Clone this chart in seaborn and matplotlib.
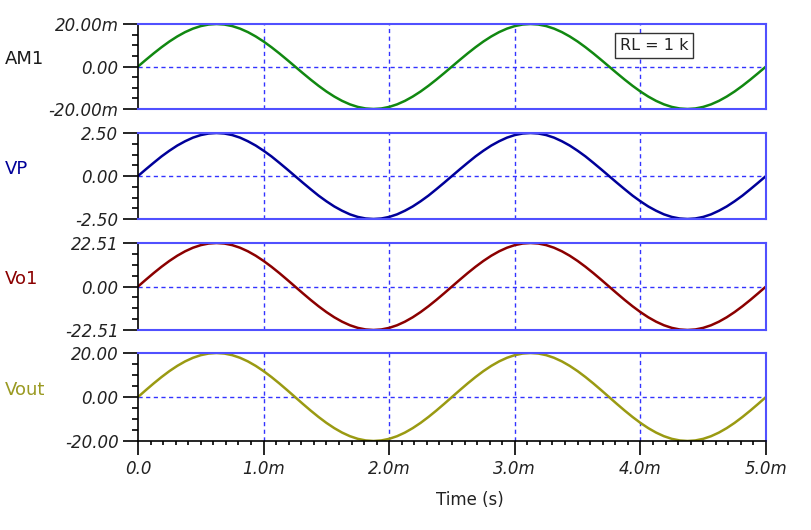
import numpy as np
import pandas as pd
import seaborn as sns
import matplotlib.pyplot as plt
from matplotlib.ticker import MultipleLocator, AutoMinorLocator

# time axis in ms, samples read every 0.0625 ms
t_ms = [0.0000, 0.0625, 0.1250, 0.1875, 0.2500, 0.3125, 0.3750, 0.4375, 0.5000, 0.5625,
        0.6250, 0.6875, 0.7500, 0.8125, 0.8750, 0.9375, 1.0000, 1.0625, 1.1250, 1.1875,
        1.2500, 1.3125, 1.3750, 1.4375, 1.5000, 1.5625, 1.6250, 1.6875, 1.7500, 1.8125,
        1.8750, 1.9375, 2.0000, 2.0625, 2.1250, 2.1875, 2.2500, 2.3125, 2.3750, 2.4375,
        2.5000, 2.5625, 2.6250, 2.6875, 2.7500, 2.8125, 2.8750, 2.9375, 3.0000, 3.0625,
        3.1250, 3.1875, 3.2500, 3.3125, 3.3750, 3.4375, 3.5000, 3.5625, 3.6250, 3.6875,
        3.7500, 3.8125, 3.8750, 3.9375, 4.0000, 4.0625, 4.1250, 4.1875, 4.2500, 4.3125,
        4.3750, 4.4375, 4.5000, 4.5625, 4.6250, 4.6875, 4.7500, 4.8125, 4.8750, 4.9375,
        5.0000]

# AM1 in mA
am1 = [0.00, 3.13, 6.18, 9.08, 11.76, 14.14, 16.18, 17.82, 19.02, 19.75,
       20.00, 19.75, 19.02, 17.82, 16.18, 14.14, 11.76, 9.08, 6.18, 3.13,
       0.00, -3.13, -6.18, -9.08, -11.76, -14.14, -16.18, -17.82, -19.02, -19.75,
       -20.00, -19.75, -19.02, -17.82, -16.18, -14.14, -11.76, -9.08, -6.18, -3.13,
       0.00, 3.13, 6.18, 9.08, 11.76, 14.14, 16.18, 17.82, 19.02, 19.75,
       20.00, 19.75, 19.02, 17.82, 16.18, 14.14, 11.76, 9.08, 6.18, 3.13,
       0.00, -3.13, -6.18, -9.08, -11.76, -14.14, -16.18, -17.82, -19.02, -19.75,
       -20.00, -19.75, -19.02, -17.82, -16.18, -14.14, -11.76, -9.08, -6.18, -3.13,
       0.00]
vp = [0.00, 0.39, 0.77, 1.14, 1.47, 1.77, 2.02, 2.23, 2.38, 2.47,
      2.50, 2.47, 2.38, 2.23, 2.02, 1.77, 1.47, 1.14, 0.77, 0.39,
      0.00, -0.39, -0.77, -1.14, -1.47, -1.77, -2.02, -2.23, -2.38, -2.47,
      -2.50, -2.47, -2.38, -2.23, -2.02, -1.77, -1.47, -1.14, -0.77, -0.39,
      0.00, 0.39, 0.77, 1.14, 1.47, 1.77, 2.02, 2.23, 2.38, 2.47,
      2.50, 2.47, 2.38, 2.23, 2.02, 1.77, 1.47, 1.14, 0.77, 0.39,
      0.00, -0.39, -0.77, -1.14, -1.47, -1.77, -2.02, -2.23, -2.38, -2.47,
      -2.50, -2.47, -2.38, -2.23, -2.02, -1.77, -1.47, -1.14, -0.77, -0.39,
      0.00]
vo1 = [0.00, 3.52, 6.96, 10.22, 13.23, 15.92, 18.21, 20.06, 21.41, 22.23,
       22.51, 22.23, 21.41, 20.06, 18.21, 15.92, 13.23, 10.22, 6.96, 3.52,
       0.00, -3.52, -6.96, -10.22, -13.23, -15.92, -18.21, -20.06, -21.41, -22.23,
       -22.51, -22.23, -21.41, -20.06, -18.21, -15.92, -13.23, -10.22, -6.96, -3.52,
       0.00, 3.52, 6.96, 10.22, 13.23, 15.92, 18.21, 20.06, 21.41, 22.23,
       22.51, 22.23, 21.41, 20.06, 18.21, 15.92, 13.23, 10.22, 6.96, 3.52,
       0.00, -3.52, -6.96, -10.22, -13.23, -15.92, -18.21, -20.06, -21.41, -22.23,
       -22.51, -22.23, -21.41, -20.06, -18.21, -15.92, -13.23, -10.22, -6.96, -3.52,
       0.00]
vout = [0.00, 3.13, 6.18, 9.08, 11.76, 14.14, 16.18, 17.82, 19.02, 19.75,
        20.00, 19.75, 19.02, 17.82, 16.18, 14.14, 11.76, 9.08, 6.18, 3.13,
        0.00, -3.13, -6.18, -9.08, -11.76, -14.14, -16.18, -17.82, -19.02, -19.75,
        -20.00, -19.75, -19.02, -17.82, -16.18, -14.14, -11.76, -9.08, -6.18, -3.13,
        0.00, 3.13, 6.18, 9.08, 11.76, 14.14, 16.18, 17.82, 19.02, 19.75,
        20.00, 19.75, 19.02, 17.82, 16.18, 14.14, 11.76, 9.08, 6.18, 3.13,
        0.00, -3.13, -6.18, -9.08, -11.76, -14.14, -16.18, -17.82, -19.02, -19.75,
        -20.00, -19.75, -19.02, -17.82, -16.18, -14.14, -11.76, -9.08, -6.18, -3.13,
        0.00]

names = ['AM1', 'VP', 'Vo1', 'Vout']
series = [am1, vp, vo1, vout]
limits = [20.00, 2.50, 22.51, 20.00]
ylabels = [['-20.00m', '0.00', '20.00m'], ['-2.50', '0.00', '2.50'],
           ['-22.51', '0.00', '22.51'], ['-20.00', '0.00', '20.00']]
colors = ['#118811', '#000099', '#8b0000', '#9a9a12']
name_colors = ['#1a1a1a', '#000099', '#8b0000', '#9a9a22']
xticklabels = ['0.0', '1.0m', '2.0m', '3.0m', '4.0m', '5.0m']

sns.set_style("white")
plt.rcParams['font.family'] = ['DejaVu Sans']

fig = plt.figure(figsize=(8.12, 5.30), dpi=100)
W, H = 812, 530
tops = [24, 133, 243, 353]
bots = [109, 219, 330, 441]
left, right = 138, 766
frame = '#5050ff'
gridc = '#3333ff'

df = pd.DataFrame({'t': t_ms})
for n, s in zip(names, series):
    df[n] = s

for i in range(4):
    ax = fig.add_axes([left / W, 1 - bots[i] / H, (right - left) / W, (bots[i] - tops[i]) / H])
    sns.lineplot(data=df, x='t', y=names[i], color=colors[i], lw=1.8, ax=ax)
    lim = limits[i]
    ax.set_xlim(0, 5)
    ax.set_ylim(-lim, lim)
    ax.set_yticks([-lim, 0, lim])
    ax.set_yticklabels(ylabels[i], fontstyle='italic', fontsize=12, color='#222222')
    ax.yaxis.set_minor_locator(AutoMinorLocator(4))
    ax.set_xticks([0, 1, 2, 3, 4, 5])
    ax.xaxis.set_minor_locator(MultipleLocator(0.1))
    ax.set_xlabel('')
    ax.set_ylabel('')
    # grid: vertical at major x, horizontal only at zero
    for xv in [1, 2, 3, 4]:
        ax.axvline(xv, color=gridc, lw=1, ls=(0, (3, 2.5)), zorder=0)
    ax.axhline(0, color=gridc, lw=1, ls=(0, (3, 2.5)), zorder=0)
    for sp in ['top', 'right', 'bottom']:
        ax.spines[sp].set_color(frame)
        ax.spines[sp].set_linewidth(1.5)
    ax.spines['left'].set_color('black')
    ax.spines['left'].set_linewidth(1.2)
    ax.tick_params(axis='y', which='both', left=True, direction='out', width=1.2,
                   color='black')
    ax.tick_params(axis='y', which='major', length=11, pad=3)
    ax.tick_params(axis='y', which='minor', length=4.5)
    if i < 3:
        ax.tick_params(axis='x', which='both', bottom=False, labelbottom=False)
    else:
        ax.spines['bottom'].set_color('black')
        ax.spines['bottom'].set_linewidth(1.2)
        ax.tick_params(axis='x', which='both', bottom=True, direction='out', width=1.2,
                       color='black')
        ax.tick_params(axis='x', which='major', length=10, pad=4)
        ax.tick_params(axis='x', which='minor', length=3)
        ax.set_xticklabels(xticklabels, fontstyle='italic', fontsize=12, color='#222222')
    ax.text(-0.212, 0.585, names[i], transform=ax.transAxes, fontsize=13,
            color=name_colors[i], ha='left', va='center')
    if i == 0:
        ax.text(0.822, 0.747, 'RL = 1 k', transform=ax.transAxes, fontsize=11.5,
                color='#222222', ha='center', va='center',
                bbox=dict(boxstyle='square,pad=0.3', fc='white', ec='#333333', lw=1))

fig.text(470 / W, 1 - 500 / H, 'Time (s)', fontsize=12, color='#222222',
         ha='center', va='center')

plt.savefig('out.png', dpi=100)
